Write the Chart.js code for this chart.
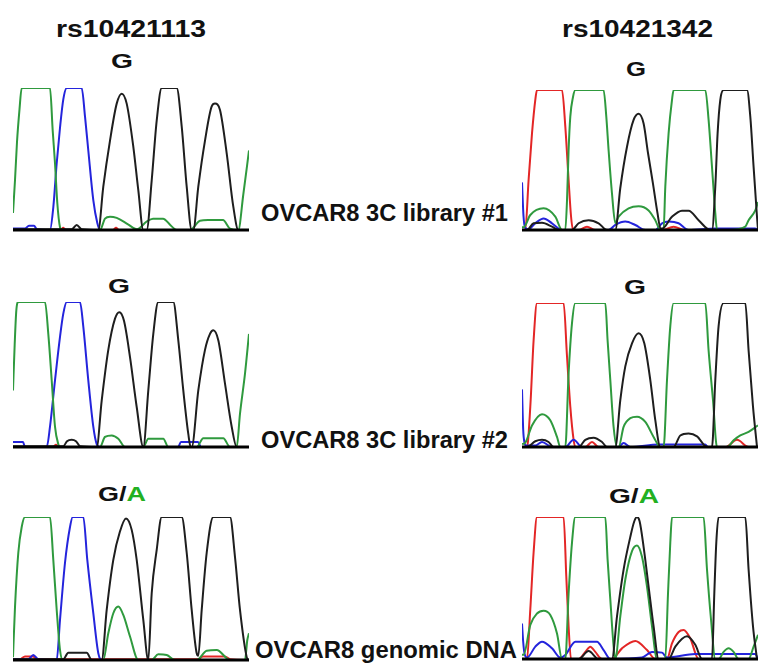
<!DOCTYPE html>
<html>
<head>
<meta charset="utf-8">
<script src="https://cdn.jsdelivr.net/npm/chart.js@4.4.1/dist/chart.umd.min.js"></script>
<style>
  body { margin: 0; background: #fff; }
  #fig { position: relative; width: 770px; height: 670px; background: #fff; overflow: hidden; }
</style>
</head>
<body>
<div id="fig"></div>
<script>
// SNP columns, sample rows and base calls
const snps = ['rs10421113', 'rs10421342'];
const samples = ['OVCAR8 3C library #1', 'OVCAR8 3C library #2', 'OVCAR8 genomic DNA'];
const calls = ['G', 'G', 'G/A'];

// chromatogram traces: [scan position, signal %]
// left column (rs10421113)
const l1Black = [[0,0.5],[58.7,0.5],[63.7,3.5],[68.7,0.5],[85.3,0],[90.3,30.5],[97,63],[103.7,89],[108.7,96],[113.7,89],[120.3,58.7],[125.3,28],[130.3,0],[133.7,0],[138.7,35],[143.7,77],[148.7,100],[163.7,100],[168.7,73],[173.7,30.5],[178.7,0],[180.3,0],[185.3,30.5],[192,63],[198.7,87],[202,89],[207,84.5],[213.7,54],[220.3,16.4],[225.3,0],[236,0]];
const l1Green = [[0,12],[2,35],[4,62],[6.5,85],[8.7,100],[37,100],[39.7,70],[42,47],[44.3,19],[47,2],[49,0],[87,0],[92,8],[97,9.4],[103.7,8.5],[115,4],[124,0.5],[133.7,6],[140,8],[150,8],[158,3],[163.7,0],[177,0],[187,6.5],[195,7],[210,7],[217,1],[225.3,0],[230.3,25],[236,56]];
const l1Blue = [[0,1],[12,1],[16,3],[21,3],[24,0.5],[37,0],[40.3,16],[43.7,47],[47,72],[50.3,92],[53.7,100],[68.7,100],[72,80],[75.3,56],[80.3,21],[84.3,5],[87,0],[236,0]];
const l1Red = [[0,0],[48,0],[50,1.5],[53,0],[100,0],[103,1.5],[106,0],[236,0]];

const l2Black = [[0,0.5],[50.3,0.5],[54,4],[58.7,5],[63,4],[67,0.5],[83.7,0],[88.7,32],[95.3,67],[102,88.5],[106.3,93],[111,87],[117,62],[123.7,27.6],[130.3,0],[135.3,39],[140.3,78],[145.3,100],[160.3,100],[165.3,73.6],[170.3,39],[175.3,9],[177.7,0],[178.7,0],[185.3,39],[192,67],[197,78],[200.3,80.5],[205.3,73.6],[212,43.7],[218.7,14],[223.7,0],[236,0]];
const l2Green = [[0,39],[1.7,71],[3.3,94],[5.3,100],[32,100],[35.3,78],[38.7,46],[42,14],[45.3,2],[47,0],[87,0],[92,7],[98.7,8],[105.3,5.7],[112,0],[130.3,0],[135.3,5.7],[150.3,5.7],[155.3,0],[183.7,0],[190.3,6],[210.3,6],[217,0],[223.7,0],[227,23],[232,50.6],[236,78]];
const l2Blue = [[0,3.4],[10,3.4],[12,0],[33.7,0],[37,14],[42,46],[47,76],[50.3,92],[53.7,100],[67,100],[70.3,83],[75.3,46],[80.3,14],[83.7,2],[87,0],[165,0],[168,3.4],[185,3.4],[188,0],[236,0]];
const l2Red = [[0,0],[40,0],[43,1.5],[46,0],[236,0]];

const l3Black = [[0,0.5],[50.3,0.5],[55.3,5],[73.7,5],[78.7,0],[88.7,0],[93.7,35],[100.3,70],[107,90],[113,99],[118.7,91],[123.7,70],[130.3,28],[135.3,0],[138.7,46.7],[143.7,77],[148.7,100],[168.7,100],[173.7,75],[178.7,35],[183.7,4.7],[185.3,3],[188.7,35],[193.7,75],[200.3,100],[217,100],[222,72],[227,35],[233.7,2],[235.3,0]];
const l3Green = [[0,2],[2,37],[5.3,75],[8.7,93],[12,100],[37,100],[40.3,70],[43.7,35],[47,7],[49.7,0],[90.3,0],[95.3,18.7],[100.3,32.7],[105.3,37.4],[110.3,31.5],[117,16.4],[125.3,0],[138.7,0],[145.3,4],[153.7,3.5],[162,0],[183.7,0],[193.7,6.5],[203.7,7],[217,0],[232,0],[234.3,14],[236,18.7]];
const l3Blue = [[0,0.5],[15.3,0.5],[20.3,3.5],[25.3,0.5],[43.7,0],[47,28],[52,68],[57,93],[59.7,100],[70.3,100],[74.3,70],[80.3,32.7],[85.3,4.7],[88.7,0],[236,0]];
const l3Red = [[0,0.5],[7,0.5],[12,2.5],[20,2.5],[24,0.5],[185,0.5],[190,2.5],[212,2.5],[217,0.5],[236,0]];

// right column (rs10421342)
const r1Black = [[0,0],[5,0],[11.6,4.8],[20,5.2],[30,2.4],[36.6,0],[50,0],[56.6,4.8],[66.6,7],[76.6,4.8],[85,0],[93.3,0],[98.3,30],[105,59.5],[111.6,78.6],[116.6,83],[121.6,76],[126,55],[131,33],[135.5,12],[138.5,1],[140,1],[150,9.5],[160,13.8],[166.6,13.8],[176.6,7],[188.3,0],[190,0],[193.3,31],[195.6,69],[198.3,93],[201.6,100],[225,100],[228.3,81],[231.6,45],[235,9.5],[236,0]];
const r1Green = [[0,2],[1.6,2],[8.3,10.7],[21.6,15.5],[33.3,9.5],[40,0],[43.3,0],[45,21],[46.6,57],[48.3,81],[51,95],[53.3,100],[81.6,100],[84.3,81],[86.6,57],[90,26],[93.3,5],[96.6,9.5],[106.6,15.5],[116.6,17],[126.6,14],[133.3,7],[138.3,0],[141.6,0],[143.3,31],[146.6,69],[150,93],[151.6,100],[183.3,100],[186.6,78.6],[190,45],[193.3,12],[195,0],[206.6,0],[223.3,2.4],[226.6,7],[233.3,14],[236,20]];
const r1Blue = [[0,34],[1.5,10],[3,2],[6.6,0.5],[13.3,4.8],[21.6,8.3],[30,4.8],[40,0],[86.6,0],[93.3,3.6],[103.3,6],[113.3,3.6],[123.3,0],[133.3,0],[140,4.8],[146.6,6],[156.6,4.8],[166.6,0],[193,1],[233,1],[236,0]];
const r1Red = [[0,0],[3.3,0],[6.6,35.7],[10,69],[13.3,93],[15,100],[40,100],[43.3,74],[46.6,35.7],[49,10],[51,0],[56.6,0],[65,2.4],[73.3,0],[140,0],[151.6,2.4],[163,0],[236,0]];

const r2Black = [[0,0],[5,0],[13.3,4],[20,5],[26.6,3.5],[31.6,0],[56.6,0],[63.3,5],[71.6,6.5],[80,3.5],[85,0],[93.3,0],[98.3,32.5],[103.3,56],[110,72],[116.6,79],[122.3,72],[128.3,46.5],[133.3,18.6],[138.3,0],[151.6,0],[158.3,8],[166.6,9.3],[175,7.4],[185,0],[190,0],[193.3,46.5],[196.6,84],[201.6,100],[223.3,100],[226.6,67],[231,28],[235,0]];
const r2Green = [[0,2],[3.3,3],[10,15],[20,22.8],[28.3,18.6],[35,7],[38.3,0],[43.3,0],[46.6,51],[50,86],[53.3,100],[83.3,100],[85.6,74],[88.3,46.5],[91.6,14],[95,0],[96.6,0],[101.6,14],[108.3,20],[115,21],[123.3,17.4],[131.6,7],[138.3,0],[141.6,0],[145,46.5],[148.3,84],[151.6,100],[183.3,100],[186.6,67],[191,32.5],[195,0],[205,0],[211.6,4.6],[218.3,8],[226.6,10.5],[236,15]];
const r2Blue = [[0,40],[1.2,12],[2.5,3],[4,1],[13.3,1],[20,3.5],[30,0],[43.3,0],[51.6,5],[60,0],[96.6,0],[101.6,2.8],[108.3,0],[136.6,1.8],[183.3,1.8],[186,0],[236,0]];
const r2Red = [[0,0],[5,0],[8.3,28],[11.6,74],[15,100],[41.6,100],[45,63],[48.3,28],[51.6,5],[53.3,0],[63.3,0],[70,3.5],[76.6,0],[203.3,0],[215,5],[226.6,0],[236,0]];

const r3Black = [[0,0],[56.6,0],[66.6,5.6],[76.6,0],[90,0],[95,30],[101.6,63],[108.3,86],[112.3,97],[115,100],[117.6,97],[121.6,79],[126.6,51],[131.6,23],[136.6,0],[146.6,0],[153.3,8.7],[165,16],[173.3,10],[180,0],[190,0],[192.3,46],[194.3,82],[196.6,100],[223.3,100],[226.6,63],[231,23],[235,0]];
const r3Green = [[0,3],[1.6,3],[8.3,24],[15,32],[21.6,34],[28.3,31],[35,18],[40,0],[43.3,0],[46.6,46],[50,82],[53.3,100],[83.3,100],[85.6,70],[88.3,42],[91.6,9],[93.3,0],[98.3,30],[103.3,56],[110,76],[115,80],[120,72],[125,51],[130,23],[135,0],[143.3,0],[146,46],[148.3,82],[150,100],[181.6,100],[185,63],[189,28],[193.3,0],[196.6,0],[201.6,5],[206.6,7.5],[211.6,5],[216.6,0],[226.6,0],[231.6,8.7],[236,17]];
const r3Blue = [[0,25],[1.2,12],[2.5,4],[5,1],[13.3,8.7],[20,12.2],[30,7.5],[38.3,1],[43.3,2.8],[53.3,12.2],[75,12.2],[81.6,6.3],[88.3,0],[120,1],[130,5],[140,4.5],[145,1],[173.3,3.5],[233.3,3.5],[236,0]];
const r3Red = [[0,0],[5,0],[8.3,35],[11.6,75],[15,100],[41.6,100],[44.3,58],[46.6,23],[49,0],[56.6,0],[63.3,5],[68.3,8.7],[73.3,5],[80,0],[90,0],[100,7.5],[113.3,12.7],[125,6.3],[133.3,0],[145,0],[150,11],[156.6,19],[161.6,20.4],[168.3,14.5],[176.6,0],[236,0]];

const fig = document.getElementById('fig');
const colors = { black: '#1e1e1e', green: '#2f9a3e', blue: '#2424dc', red: '#e32626' };

// thick black baseline under each trace panel
const baseline = {
  id: 'baseline',
  afterDatasetsDraw(chart) {
    const { ctx, chartArea, scales } = chart;
    const py = scales.y.getPixelForValue(0);
    ctx.save();
    ctx.strokeStyle = '#000';
    ctx.lineWidth = 3;
    ctx.beginPath();
    ctx.moveTo(chartArea.left, py);
    ctx.lineTo(chartArea.right, py);
    ctx.stroke();
    ctx.restore();
  }
};

function panel(x, top, base, traces) {
  const c = document.createElement('canvas');
  const h = Math.round(base - top);
  c.width = 236;
  c.height = h + 5;
  c.style.position = 'absolute';
  c.style.left = Math.round(x) + 'px';
  c.style.top = (Math.round(top) - 2) + 'px';
  fig.appendChild(c);

  // black first so it is drawn on top
  const order = ['black', 'green', 'blue', 'red'];
  new Chart(c, {
    type: 'line',
    data: {
      datasets: order.map(k => ({
        label: k,
        data: traces[k].map(p => ({ x: p[0], y: p[1] })),
        borderColor: colors[k],
        borderWidth: 2,
        pointRadius: 0,
        fill: false,
        cubicInterpolationMode: 'monotone'
      }))
    },
    options: {
      responsive: false,
      animation: false,
      events: [],
      layout: { padding: { top: 2, bottom: 3, left: 0, right: 0 } },
      scales: {
        x: { type: 'linear', min: 0, max: 236, display: false },
        y: { min: 0, max: 100, display: false }
      },
      plugins: { legend: { display: false }, tooltip: { enabled: false } }
    },
    plugins: [baseline]
  });
}

panel(13, 88, 230, { black: l1Black, green: l1Green, blue: l1Blue, red: l1Red });
panel(13, 302, 447, { black: l2Black, green: l2Green, blue: l2Blue, red: l2Red });
panel(13, 517, 660, { black: l3Black, green: l3Green, blue: l3Blue, red: l3Red });
panel(522, 90, 230, { black: r1Black, green: r1Green, blue: r1Blue, red: r1Red });
panel(522, 303, 447, { black: r2Black, green: r2Green, blue: r2Blue, red: r2Red });
panel(522, 517, 659, { black: r3Black, green: r3Green, blue: r3Blue, red: r3Red });

// text, stretched to the widths seen in the figure
function text(parts, left, width, base, size) {
  const d = document.createElement('div');
  d.style.cssText = 'position:absolute;white-space:nowrap;transform-origin:0 0;font-weight:bold;' +
    'font-family:"Liberation Sans",Arial,sans-serif;font-size:' + size + 'px;line-height:' + size + 'px;' +
    'left:' + left + 'px;top:' + (base - 0.8465 * size) + 'px';
  parts.forEach(p => {
    const s = document.createElement('span');
    s.textContent = p[0];
    s.style.color = p[1];
    d.appendChild(s);
  });
  fig.appendChild(d);
  const w = d.getBoundingClientRect().width;
  d.style.transform = 'scaleX(' + (width / w) + ')';
}

function callParts(call) {
  if (call.indexOf('/') < 0) return [[call, '#111']];
  const [a, b] = call.split('/');
  return [[a + '/', '#111'], [b, '#22b022']];
}

text([[snps[0], '#111']], 56, 150, 37, 23);
text([[snps[1], '#111']], 562, 151, 37.5, 23);

text(callParts(calls[0]), 111, 22, 67.5, 20);
text(callParts(calls[0]), 626, 20, 75.5, 20);
text(callParts(calls[1]), 108, 22, 292.5, 20);
text(callParts(calls[1]), 624, 22, 293.5, 20);
text(callParts(calls[2]), 98, 48, 501, 20);
text(callParts(calls[2]), 609, 50, 503, 20);

text([[samples[0], '#111']], 261, 247, 222, 23.4);
text([[samples[1], '#111']], 261, 247, 448.5, 23.4);
text([[samples[2], '#111']], 255, 262, 658.5, 23.4);
</script>
</body>
</html>
